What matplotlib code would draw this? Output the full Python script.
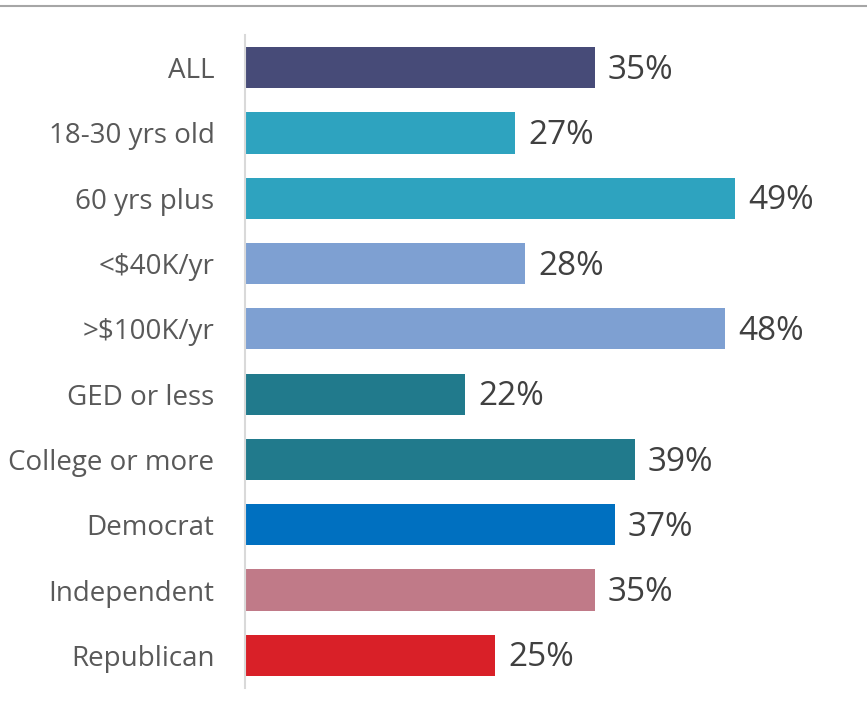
import matplotlib.pyplot as plt
from matplotlib.lines import Line2D

categories = ["ALL", "18-30 yrs old", "60 yrs plus", "<$40K/yr", ">$100K/yr",
              "GED or less", "College or more", "Democrat", "Independent", "Republican"]
values = [35, 27, 49, 28, 48, 22, 39, 37, 35, 25]
colors = ["#474B78", "#2EA3BF", "#2EA3BF", "#7EA0D2", "#7EA0D2",
          "#217A8C", "#217A8C", "#0070C0", "#C07A88", "#D92028"]

plt.rcParams["font.family"] = ["Open Sans", "DejaVu Sans"]

fig = plt.figure(figsize=(8.67, 7.14), dpi=100)
ax = fig.add_axes([245 / 867, 1 - 688 / 714, 600 / 867, 653 / 714])

y = range(len(categories))
ax.barh(y, values, height=0.63, color=colors)
ax.set_xlim(0, 60)
ax.set_ylim(len(categories) - 0.5, -0.5)

for i, v in enumerate(values):
    ax.text(v + 1.3, i + 0.04, "%d%%" % v, va="center", ha="left", fontsize=24, color="#404040")

ax.set_yticks(list(y))
ax.set_yticklabels(categories, fontsize=20, color="#595959")
ax.tick_params(axis="y", length=0, pad=22)
ax.set_xticks([])
for s in ["top", "right", "bottom"]:
    ax.spines[s].set_visible(False)
ax.spines["left"].set_color("#D9D9D9")
ax.spines["left"].set_linewidth(1.5)

fig.add_artist(Line2D([0, 1], [1 - 6 / 714, 1 - 6 / 714], color="#A6A6A6", linewidth=1.5))

fig.savefig("out.png", dpi=100)
